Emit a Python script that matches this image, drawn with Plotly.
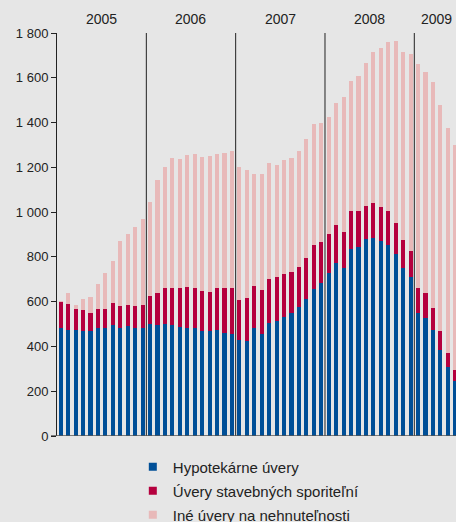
import plotly.graph_objects as go

years = ["2005", "2006", "2007", "2008", "2009"]
months_per_year = [12, 12, 12, 12, 6]
months = [f"{y}-{m:02d}" for y, n in zip(years, months_per_year) for m in range(1, n + 1)]

hypotekarne = [484, 475, 475, 469, 469, 484, 484, 496, 484, 493, 484, 484,
               502, 496, 502, 496, 487, 484, 484, 469, 469, 475, 460, 457,
               431, 425, 484, 457, 505, 514, 532, 550, 577, 612, 657, 684,
               729, 773, 752, 836, 845, 878, 885, 872, 851, 815, 752, 711,
               550, 529, 475, 386, 308, 246]
stavebne = [116, 115, 93, 94, 81, 84, 84, 98, 97, 93, 97, 102,
            124, 143, 160, 166, 175, 182, 178, 179, 175, 187, 202, 205,
            177, 192, 186, 196, 197, 197, 192, 183, 178, 184, 197, 183,
            174, 170, 160, 170, 161, 150, 156, 152, 155, 137, 124, 116,
            112, 110, 97, 83, 63, 49]
ine = [3, 49, 19, 49, 71, 111, 161, 188, 291, 317, 353, 384,
       420, 505, 540, 581, 576, 590, 598, 599, 608, 598, 603, 612,
       594, 572, 501, 518, 518, 500, 510, 510, 519, 532, 541, 532,
       523, 545, 603, 581, 603, 639, 675, 710, 755, 814, 840, 880,
       1001, 988, 1010, 1011, 1006, 1006]

series_names = ["Hypotekárne úvery", "Úvery stavebných sporiteľní", "Iné úvery na nehnuteľnosti"]
colors = ["#004f97", "#b5003e", "#e8b9b9"]
y_ticks = [0, 200, 400, 600, 800, 1000, 1200, 1400, 1600, 1800]

BG = "#e6e6e6"
FONT = "Liberation Sans, Arial, sans-serif"

fig = go.Figure()
for name, vals, col in zip(series_names, [hypotekarne, stavebne, ine], colors):
    fig.add_trace(go.Bar(x=months, y=vals, name=name, marker=dict(color=col, line=dict(width=0)),
                         showlegend=False))
for i, (name, col) in enumerate(zip(series_names, colors)):
    fig.add_trace(go.Scatter(x=[None], y=[None], mode="markers", name=name,
                             marker=dict(symbol="square", size=8, color=col),
                             legendgroup=f"g{i}", showlegend=True))

shapes = []
annotations = []
start = 0
for y, n in zip(years, months_per_year):
    center = start + (n - 1) / 2
    annotations.append(dict(x=center, y=1, xref="x", yref="paper", text=y, showarrow=False,
                            yanchor="bottom", yshift=4, font=dict(size=14, color="#222", family=FONT)))
    if start > 0:
        shapes.append(dict(type="line", x0=start - 0.5, x1=start - 0.5, y0=0, y1=y_ticks[-1],
                           xref="x", yref="y", line=dict(color="#222", width=1)))
    start += n
shapes.append(dict(type="line", xref="paper", yref="y", x0=-6 / 399, x1=1, y0=0, y1=0,
                   line=dict(color="#555", width=1.5)))

fig.update_layout(
    width=456, height=522,
    margin=dict(l=57, r=0, t=33, b=86, autoexpand=False),
    paper_bgcolor=BG, plot_bgcolor=BG,
    barmode="stack", bargap=0.45,
    separators=", ",
    font=dict(family=FONT, size=13, color="#222"),
    shapes=shapes, annotations=annotations,
    showlegend=True,
    legend=dict(x=0.19, y=-0.036, xanchor="left", yanchor="top", orientation="v",
                bgcolor="rgba(0,0,0,0)", font=dict(size=15, color="#222", family=FONT),
                tracegroupgap=1.5, traceorder="grouped", itemclick=False),
    xaxis=dict(type="category", range=[-0.5, 53.1], showticklabels=False, ticks="",
               showgrid=False, zeroline=False, showline=False),
    yaxis=dict(range=[0, 1800], tickvals=y_ticks, tickformat=",d", ticks="outside", ticklen=5,
               tickcolor="#222", showline=True, linecolor="#222", linewidth=1,
               showgrid=False, zeroline=False, tickfont=dict(size=13, color="#222")),
)

fig.write_html("out.html", config={"displayModeBar": False},
               post_script="document.body.style.margin='0';document.body.style.overflow='hidden';"
                           "document.body.style.background='#e6e6e6';")
